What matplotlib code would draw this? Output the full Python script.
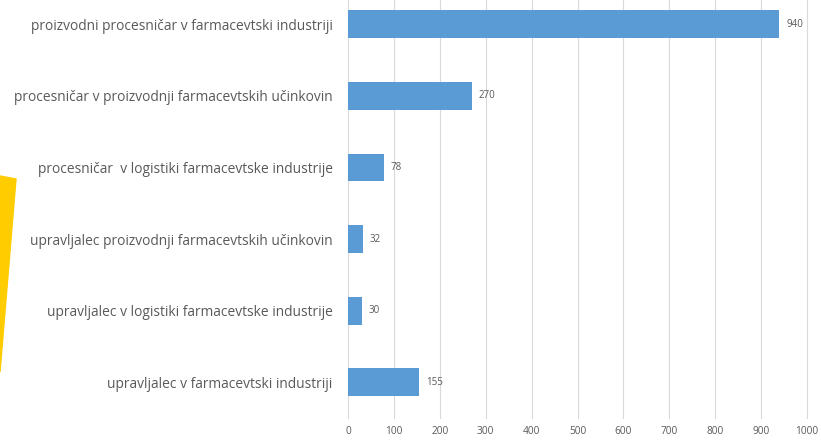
import matplotlib
matplotlib.use("Agg")
import matplotlib.pyplot as plt
from matplotlib.patches import Polygon

categories = [
    "upravljalec v farmacevtski industriji",
    "upravljalec v logistiki farmacevtske industrije",
    "upravljalec proizvodnji farmacevtskih učinkovin",
    "procesničar  v logistiki farmacevtske industrije",
    "procesničar v proizvodnji farmacevtskih učinkovin",
    "proizvodni procesničar v farmacevtski industriji",
]
values = [155, 30, 32, 78, 270, 940]
ticks = [0, 100, 200, 300, 400, 500, 600, 700, 800, 900, 1000]

plt.rcParams['font.family'] = ['Open Sans', 'DejaVu Sans']
gray = '#595959'

fig = plt.figure(figsize=(8.21, 4.41), dpi=100)
ax = fig.add_axes([348/821, 23/441, 459/821, 418/441])

# decorative yellow shape on the left edge
fig.patches.append(Polygon([[0, 1 - 176/441], [16/821, 1 - 179/441], [0, 1 - 372/441]],
                           closed=True, transform=fig.transFigure, color='#FFCC00', zorder=0))

pos = list(range(len(categories)))
ax.barh(pos, values, height=0.39, color='#5B9BD5', zorder=3)
for p, v in zip(pos, values):
    ax.text(v + 15, p, str(v), va='center', ha='left', fontsize=7, color=gray)

ax.set_xlim(0, 1000)
ax.set_ylim(-0.5, 5.34)
ax.set_xticks(ticks)
ax.set_xticklabels([str(t) for t in ticks], fontsize=7.3, color=gray)
ax.set_yticks(pos)
ax.set_yticklabels(categories, fontsize=9.9, color=gray)
ax.tick_params(axis='both', length=0)
ax.tick_params(axis='y', pad=11)
ax.tick_params(axis='x', pad=6)
ax.grid(axis='x', color='#D9D9D9', linewidth=0.8, zorder=0)
for gl in ax.get_xgridlines():
    gl.set_clip_on(False)
for s in ax.spines.values():
    s.set_visible(False)

fig.savefig("out.png", dpi=100)
